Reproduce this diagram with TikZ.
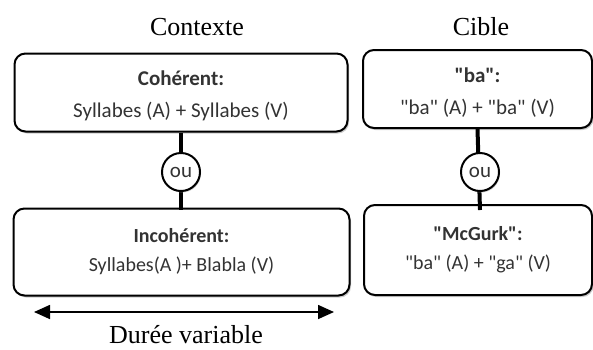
\documentclass[tikz,border=0pt]{standalone}
\usepackage{fontspec}
\setmainfont{Liberation Serif}
\newfontfamily\calfont{Carlito}
\usetikzlibrary{arrows.meta,shadows}
\begin{document}
\begin{tikzpicture}[x=1pt,y=-1pt,
  box/.style={draw=black,line width=2pt,rounded corners=11pt,fill=white,
    drop shadow={shadow xshift=1.5pt,shadow yshift=-2pt,fill=black!40},
    align=center,font=\calfont\fontsize{21}{32}\selectfont,text=black!80,inner sep=0pt},
  small/.style={font=\calfont\fontsize{20}{29}\selectfont},
  orc/.style={draw=black,line width=2pt,circle,fill=white,minimum size=38pt,inner sep=0pt,
    drop shadow={shadow xshift=1pt,shadow yshift=-1.5pt,fill=black!40},
    font=\calfont\fontsize{21}{21}\selectfont,text=black!80},
  conn/.style={line width=4pt},
  ttl/.style={font=\fontsize{26}{26}\selectfont,anchor=base}]
\useasboundingbox (0,0) rectangle (593,349);
\node[ttl] (t1) at (197,35) {Contexte};
\node[ttl] (t2) at (481,35) {Cible};
\node[box,minimum width=333pt,minimum height=78pt] (b1) at (181,92.5)
  {\rule{0pt}{22pt}\textbf{Cohérent:}\\Syllabes (A) + Syllabes (V)};
\node[box,minimum width=229pt,minimum height=78pt] (b2) at (477.5,89)
  {\rule{0pt}{22pt}\textbf{"ba":}\\"ba" (A) + "ba" (V)};
\node[box,small,minimum width=336pt,minimum height=87pt] (b3) at (181.5,252)
  {\textbf{Incohérent:}\\Syllabes(A )+ Blabla (V)};
\node[box,small,minimum width=228pt,minimum height=90pt] (b4) at (478,250)
  {\textbf{"McGurk":}\\"ba" (A) + "ga" (V)};
\draw[conn] (b1.south) -- (181,210);
\draw[conn] (b2.south) -- (480,210);
\node[orc] (o1) at (181,172) {ou};
\node[orc] (o2) at (480,172) {ou};
\coordinate (a1) at (34,312);
\coordinate (a2) at (334,312);
\draw[line width=1.6pt,{Triangle[length=16pt,width=14pt]}-{Triangle[length=16pt,width=14pt]}] (a1) -- (a2);
\node[ttl] (t3) at (186,343) {Durée variable};
\end{tikzpicture}
\end{document}
